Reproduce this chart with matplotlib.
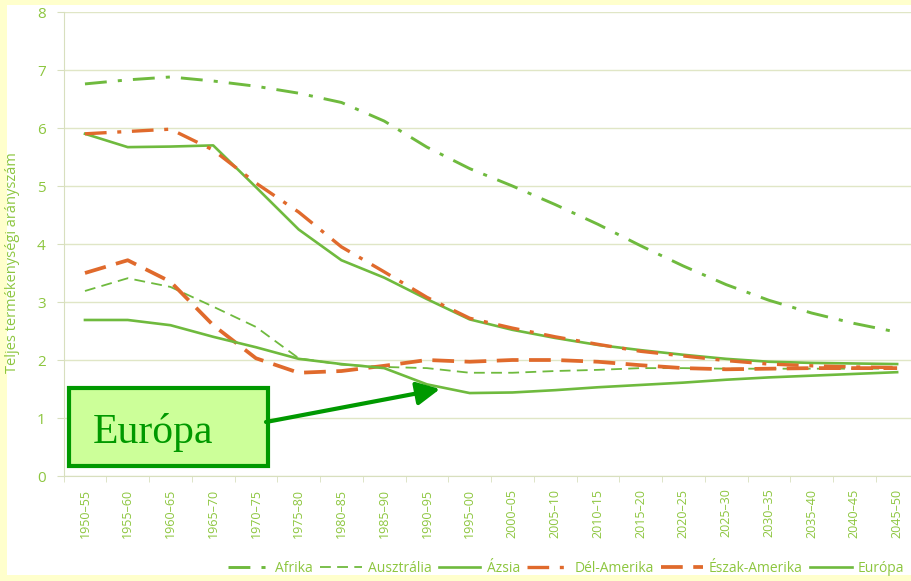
import matplotlib
matplotlib.use('Agg')
import matplotlib.pyplot as plt
from matplotlib.patches import Rectangle, FancyArrowPatch
import numpy as np

# periods on the x axis
periods = ['1950–55', '1955–60', '1960–65', '1965–70', '1970–75', '1975–80',
           '1980–85', '1985–90', '1990–95', '1995–00', '2000–05', '2005–10',
           '2010–15', '2015–20', '2020–25', '2025–30', '2030–35', '2035–40',
           '2040–45', '2045–50']

# total fertility rate per region
afrika = [6.76, 6.83, 6.88, 6.81, 6.72, 6.60, 6.44, 6.12, 5.67, 5.30,
          5.00, 4.68, 4.34, 3.97, 3.62, 3.30, 3.03, 2.81, 2.63, 2.48]
ausztralia = [3.19, 3.41, 3.26, 2.92, 2.57, 2.03, 1.92, 1.88, 1.86, 1.78,
              1.78, 1.81, 1.83, 1.86, 1.86, 1.85, 1.85, 1.85, 1.85, 1.85]
azsia = [5.90, 5.67, 5.68, 5.70, 4.98, 4.25, 3.72, 3.42, 3.05, 2.70,
         2.52, 2.38, 2.26, 2.17, 2.09, 2.02, 1.97, 1.95, 1.94, 1.93]
del_amerika = [5.90, 5.94, 5.98, 5.62, 5.05, 4.55, 3.95, 3.52, 3.08, 2.72,
               2.55, 2.40, 2.27, 2.15, 2.07, 1.99, 1.93, 1.90, 1.88, 1.87]
eszak_amerika = [3.50, 3.72, 3.35, 2.60, 2.03, 1.78, 1.81, 1.90, 2.00, 1.97,
                 2.00, 2.00, 1.97, 1.91, 1.86, 1.84, 1.85, 1.86, 1.86, 1.86]
europa = [2.69, 2.69, 2.60, 2.40, 2.22, 2.02, 1.93, 1.86, 1.58, 1.43,
          1.44, 1.48, 1.53, 1.57, 1.61, 1.66, 1.70, 1.73, 1.76, 1.79]

green = '#6FBA3E'
orange = '#E06A2C'
text_green = '#8DC63F'
dark_green = '#009900'

plt.rcParams['font.family'] = ['Open Sans', 'DejaVu Sans']

W, H = 912, 581
fig = plt.figure(figsize=(W / 100, H / 100), dpi=100, facecolor='#FFFFCC')
# white panel inside the yellow frame
fig.patches.append(Rectangle((7 / W, 1 - 575 / H), 905 / W, 570 / H,
                             transform=fig.transFigure, facecolor='white',
                             edgecolor='none', zorder=-5))

ax = fig.add_axes([63.6 / W, 1 - 476 / H, (918.5 - 63.6) / W, (476 - 12) / H])
ax.set_facecolor('none')

x = np.arange(len(periods))
ax.plot(x, afrika, color=green, lw=2.1, dashes=(7.5, 3.8, 1.4, 3.8), label='Afrika')
ax.plot(x, ausztralia, color=green, lw=1.3, dashes=(6, 3.5), label='Ausztrália')
ax.plot(x, azsia, color=green, lw=1.9, label='Ázsia')
ax.plot(x, del_amerika, color=orange, lw=2.4, dashes=(6.5, 3.2, 1.2, 3.2), label='Dél-Amerika')
ax.plot(x, eszak_amerika, color=orange, lw=2.7, dashes=(5.8, 2.8), label='Észak-Amerika')
ax.plot(x, europa, color=green, lw=1.9, label='Európa')

ax.set_xlim(-0.5, len(periods) - 0.5)
ax.set_ylim(0, 8)
ax.set_yticks(range(0, 9))
ax.yaxis.grid(True, color='#E0E6C6', lw=1)
ax.set_axisbelow(True)

ax.set_xticks(x)
ax.set_xticklabels(periods, rotation=90, fontsize=9, color=text_green)
ax.set_xticks(np.arange(-0.5, len(periods), 1), minor=True)
ax.tick_params(axis='x', which='major', length=0, pad=9)
ax.tick_params(axis='x', which='minor', length=4, color='#D8DFBE')
ax.tick_params(axis='y', length=5, color='#D8DFBE', labelcolor=text_green,
               labelsize=11, pad=8)

for s in ['top', 'right']:
    ax.spines[s].set_visible(False)
for s in ['left', 'bottom']:
    ax.spines[s].set_color('#D8DFBE')

fig.text(13 / W, 1 - 263 / H, 'Teljes termékenységi arányszám', rotation=90,
         ha='center', va='center', fontsize=10.5, color=text_green)

leg = fig.legend(loc='center left', bbox_to_anchor=(222 / W, 1 - 568 / H),
                 ncol=6, frameon=False, fontsize=10, handlelength=3.0,
                 columnspacing=0.5, handletextpad=0.45, borderaxespad=0)
for t in leg.get_texts():
    t.set_color(text_green)

# Európa callout
fig.patches.append(Rectangle((69 / W, 1 - 466 / H), 199 / W, 78 / H,
                             transform=fig.transFigure, facecolor='#CCFF99',
                             edgecolor=dark_green, lw=3, zorder=5))
fig.text(93 / W, 1 - 443 / H, 'Európa', fontsize=30, color=dark_green,
         family='Liberation Serif', va='baseline', zorder=6)
fig.patches.append(FancyArrowPatch((266 / W, 1 - 422 / H), (440 / W, 1 - 389 / H),
                                   transform=fig.transFigure, color=dark_green,
                                   lw=3, arrowstyle='-|>,head_length=14,head_width=7',
                                   shrinkA=0, shrinkB=0, zorder=6))

fig.savefig('out.png', dpi=100, facecolor=fig.get_facecolor())
